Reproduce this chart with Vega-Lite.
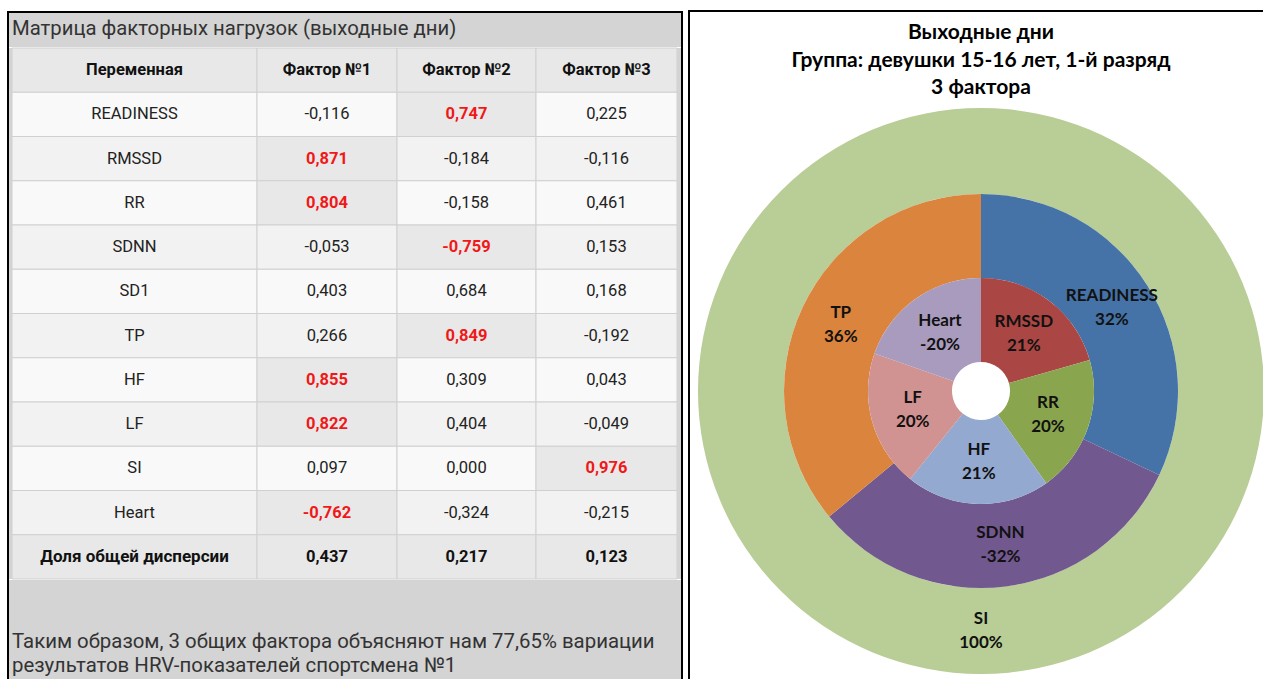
{
  "$schema": "https://vega.github.io/schema/vega-lite/v6.json",
  "background": "white",
  "padding": {"left": 7, "top": 10, "right": 0, "bottom": 0},
  "spacing": 5,
  "resolve": {"scale": {"color": "independent"}},
  "config": {
    "view": {"stroke": null},
    "locale": {"number": {"decimal": ",", "thousands": "\u00a0", "grouping": [3], "currency": ["", ""], "minus": "-"}}
  },
  "datasets": {
    "columns": [
      {"col": "Переменная"}, {"col": "Фактор №1"}, {"col": "Фактор №2"}, {"col": "Фактор №3"}
    ],
    "loadings": [
      {"variable": "READINESS", "factor": "Фактор №1", "value": -0.116},
      {"variable": "READINESS", "factor": "Фактор №2", "value": 0.747},
      {"variable": "READINESS", "factor": "Фактор №3", "value": 0.225},
      {"variable": "RMSSD", "factor": "Фактор №1", "value": 0.871},
      {"variable": "RMSSD", "factor": "Фактор №2", "value": -0.184},
      {"variable": "RMSSD", "factor": "Фактор №3", "value": -0.116},
      {"variable": "RR", "factor": "Фактор №1", "value": 0.804},
      {"variable": "RR", "factor": "Фактор №2", "value": -0.158},
      {"variable": "RR", "factor": "Фактор №3", "value": 0.461},
      {"variable": "SDNN", "factor": "Фактор №1", "value": -0.053},
      {"variable": "SDNN", "factor": "Фактор №2", "value": -0.759},
      {"variable": "SDNN", "factor": "Фактор №3", "value": 0.153},
      {"variable": "SD1", "factor": "Фактор №1", "value": 0.403},
      {"variable": "SD1", "factor": "Фактор №2", "value": 0.684},
      {"variable": "SD1", "factor": "Фактор №3", "value": 0.168},
      {"variable": "TP", "factor": "Фактор №1", "value": 0.266},
      {"variable": "TP", "factor": "Фактор №2", "value": 0.849},
      {"variable": "TP", "factor": "Фактор №3", "value": -0.192},
      {"variable": "HF", "factor": "Фактор №1", "value": 0.855},
      {"variable": "HF", "factor": "Фактор №2", "value": 0.309},
      {"variable": "HF", "factor": "Фактор №3", "value": 0.043},
      {"variable": "LF", "factor": "Фактор №1", "value": 0.822},
      {"variable": "LF", "factor": "Фактор №2", "value": 0.404},
      {"variable": "LF", "factor": "Фактор №3", "value": -0.049},
      {"variable": "SI", "factor": "Фактор №1", "value": 0.097},
      {"variable": "SI", "factor": "Фактор №2", "value": 0.0},
      {"variable": "SI", "factor": "Фактор №3", "value": 0.976},
      {"variable": "Heart", "factor": "Фактор №1", "value": -0.762},
      {"variable": "Heart", "factor": "Фактор №2", "value": -0.324},
      {"variable": "Heart", "factor": "Фактор №3", "value": -0.215},
      {"variable": "Доля общей дисперсии", "factor": "Фактор №1", "value": 0.437},
      {"variable": "Доля общей дисперсии", "factor": "Фактор №2", "value": 0.217},
      {"variable": "Доля общей дисперсии", "factor": "Фактор №3", "value": 0.123}
    ],
    "outer": [
      {"variable": "SI", "share": 1.0, "pct": 1.0, "n": 1}
    ],
    "middle": [
      {"variable": "READINESS", "share": 0.32, "pct": 0.32, "n": 1},
      {"variable": "SDNN", "share": 0.32, "pct": -0.32, "n": 2},
      {"variable": "TP", "share": 0.36, "pct": 0.36, "n": 3}
    ],
    "inner": [
      {"variable": "RMSSD", "share": 0.21, "pct": 0.21, "n": 1},
      {"variable": "RR", "share": 0.20, "pct": 0.20, "n": 2},
      {"variable": "HF", "share": 0.21, "pct": 0.21, "n": 3},
      {"variable": "LF", "share": 0.20, "pct": 0.20, "n": 4},
      {"variable": "Heart", "share": 0.20, "pct": -0.20, "n": 5}
    ],
    "titleText": [{"title": "Матрица факторных нагрузок (выходные дни)"}],
    "noteText": [{"note": "Таким образом, 3 общих фактора объясняют нам 77,65% вариации\nрезультатов HRV-показателей спортсмена №1"}]
  },
  "hconcat": [
    {
      "spacing": 0,
      "hconcat": [
        {
          "width": 2, "height": 700,
          "view": {"fill": "black"},
          "data": {"values": []},
          "mark": "rect"
        },
        {
          "spacing": 0,
          "vconcat": [
            {
              "width": 672, "height": 2,
              "view": {"fill": "black"},
              "data": {"values": []},
              "mark": "rect"
            },
            {
              "width": 672, "height": 34,
              "view": {"fill": "#d4d4d4"},
              "data": {"name": "titleText"},
              "mark": {"type": "text", "align": "left", "baseline": "middle", "dx": 3, "dy": -1, "font": "Roboto", "fontSize": 20.3, "color": "#333333"},
              "encoding": {
                "text": {"field": "title"},
                "x": {"datum": 0, "type": "quantitative", "scale": {"domain": [0, 1]}, "axis": null}
              }
            },
            {
              "spacing": 0,
              "bounds": "flush",
              "hconcat": [
                {
                  "width": 3, "height": 531,
                  "view": {"fill": "#d4d4d4"},
                  "data": {"values": []},
                  "mark": "rect"
                },
                {
                  "width": 245, "height": 531,
                  "layer": [
                    {
                      "data": {"name": "columns"},
                      "transform": [{"filter": "datum.col === 'Переменная'"}],
                      "mark": {"type": "rect", "fill": "#e8e8e8", "stroke": "#d0d0d0", "strokeWidth": 1},
                      "encoding": {"y": {"datum": "Переменная", "type": "nominal", "axis": null, "scale": {"domain": ["Переменная","READINESS","RMSSD","RR","SDNN","SD1","TP","HF","LF","SI","Heart","Доля общей дисперсии"], "paddingInner": 0, "paddingOuter": 0}}}
                    },
                    {
                      "data": {"name": "columns"},
                      "transform": [{"filter": "datum.col === 'Переменная'"}],
                      "mark": {"type": "text", "font": "Roboto", "fontSize": 16.5, "fontWeight": "bold", "color": "#111111", "baseline": "middle"},
                      "encoding": {"y": {"datum": "Переменная", "type": "nominal", "axis": null}, "text": {"field": "col"}}
                    },
                    {
                      "data": {"name": "loadings"},
                      "transform": [{"filter": "datum.factor === 'Фактор №1'"}],
                      "mark": {"type": "rect", "stroke": "#d0d0d0", "strokeWidth": 1},
                      "encoding": {
                        "y": {"field": "variable", "type": "nominal", "axis": null},
                        "color": {"field": "variable", "type": "nominal", "legend": null, "scale": {"domain": ["READINESS","RMSSD","RR","SDNN","SD1","TP","HF","LF","SI","Heart","Доля общей дисперсии"], "range": ["#f9f9f9","#f2f2f2","#f9f9f9","#f2f2f2","#f9f9f9","#f2f2f2","#f9f9f9","#f2f2f2","#f9f9f9","#f2f2f2","#e8e8e8"]}}
                      }
                    },
                    {
                      "data": {"name": "loadings"},
                      "transform": [{"filter": "datum.factor === 'Фактор №1' && datum.variable !== 'Доля общей дисперсии'"}],
                      "mark": {"type": "text", "font": "Roboto", "fontSize": 16.5, "color": "#222222", "baseline": "middle"},
                      "encoding": {"y": {"field": "variable", "type": "nominal", "axis": null}, "text": {"field": "variable"}}
                    },
                    {
                      "data": {"name": "loadings"},
                      "transform": [{"filter": "datum.factor === 'Фактор №1' && datum.variable === 'Доля общей дисперсии'"}],
                      "mark": {"type": "text", "font": "Roboto", "fontSize": 17, "fontWeight": "bold", "color": "#111111", "baseline": "middle"},
                      "encoding": {"y": {"field": "variable", "type": "nominal", "axis": null}, "text": {"field": "variable"}}
                    }
                  ]
                },
                {
                  "width": 140, "height": 531,
                  "layer": [
                    {
                      "data": {"name": "columns"},
                      "transform": [{"filter": "datum.col === 'Фактор №1'"}],
                      "mark": {"type": "rect", "fill": "#e8e8e8", "stroke": "#d0d0d0", "strokeWidth": 1},
                      "encoding": {"y": {"datum": "Переменная", "type": "nominal", "axis": null, "scale": {"domain": ["Переменная","READINESS","RMSSD","RR","SDNN","SD1","TP","HF","LF","SI","Heart","Доля общей дисперсии"], "paddingInner": 0, "paddingOuter": 0}}}
                    },
                    {
                      "data": {"name": "columns"},
                      "transform": [{"filter": "datum.col === 'Фактор №1'"}],
                      "mark": {"type": "text", "font": "Roboto", "fontSize": 16.5, "fontWeight": "bold", "color": "#111111", "baseline": "middle"},
                      "encoding": {"y": {"datum": "Переменная", "type": "nominal", "axis": null}, "text": {"field": "col"}}
                    },
                    {
                      "data": {"name": "loadings"},
                      "transform": [{"filter": "datum.factor === 'Фактор №1'"}],
                      "mark": {"type": "rect", "stroke": "#d0d0d0", "strokeWidth": 1},
                      "encoding": {
                        "y": {"field": "variable", "type": "nominal", "axis": null},
                        "color": {"condition": {"test": "abs(datum.value) >= 0.7 && datum.variable !== 'Доля общей дисперсии'", "value": "#e8e8e8"}, "field": "variable", "type": "nominal", "legend": null, "scale": {"domain": ["READINESS","RMSSD","RR","SDNN","SD1","TP","HF","LF","SI","Heart","Доля общей дисперсии"], "range": ["#f9f9f9","#f2f2f2","#f9f9f9","#f2f2f2","#f9f9f9","#f2f2f2","#f9f9f9","#f2f2f2","#f9f9f9","#f2f2f2","#e8e8e8"]}}
                      }
                    },
                    {
                      "data": {"name": "loadings"},
                      "transform": [{"filter": "datum.factor === 'Фактор №1' && !(abs(datum.value) >= 0.7) && datum.variable !== 'Доля общей дисперсии'"}],
                      "mark": {"type": "text", "font": "Roboto", "fontSize": 16.5, "color": "#222222", "baseline": "middle"},
                      "encoding": {"y": {"field": "variable", "type": "nominal", "axis": null}, "text": {"field": "value", "type": "quantitative", "format": ".3f"}}
                    },
                    {
                      "data": {"name": "loadings"},
                      "transform": [{"filter": "datum.factor === 'Фактор №1' && (abs(datum.value) >= 0.7 || datum.variable === 'Доля общей дисперсии')"}],
                      "mark": {"type": "text", "font": "Roboto", "fontSize": 16.5, "fontWeight": "bold", "baseline": "middle"},
                      "encoding": {
                        "y": {"field": "variable", "type": "nominal", "axis": null},
                        "text": {"field": "value", "type": "quantitative", "format": ".3f"},
                        "color": {"condition": {"test": "datum.variable !== 'Доля общей дисперсии'", "value": "#f01818"}, "value": "#111111"}
                      }
                    }
                  ]
                },
                {
                  "width": 139, "height": 531,
                  "layer": [
                    {
                      "data": {"name": "columns"},
                      "transform": [{"filter": "datum.col === 'Фактор №2'"}],
                      "mark": {"type": "rect", "fill": "#e8e8e8", "stroke": "#d0d0d0", "strokeWidth": 1},
                      "encoding": {"y": {"datum": "Переменная", "type": "nominal", "axis": null, "scale": {"domain": ["Переменная","READINESS","RMSSD","RR","SDNN","SD1","TP","HF","LF","SI","Heart","Доля общей дисперсии"], "paddingInner": 0, "paddingOuter": 0}}}
                    },
                    {
                      "data": {"name": "columns"},
                      "transform": [{"filter": "datum.col === 'Фактор №2'"}],
                      "mark": {"type": "text", "font": "Roboto", "fontSize": 16.5, "fontWeight": "bold", "color": "#111111", "baseline": "middle"},
                      "encoding": {"y": {"datum": "Переменная", "type": "nominal", "axis": null}, "text": {"field": "col"}}
                    },
                    {
                      "data": {"name": "loadings"},
                      "transform": [{"filter": "datum.factor === 'Фактор №2'"}],
                      "mark": {"type": "rect", "stroke": "#d0d0d0", "strokeWidth": 1},
                      "encoding": {
                        "y": {"field": "variable", "type": "nominal", "axis": null},
                        "color": {"condition": {"test": "abs(datum.value) >= 0.7 && datum.variable !== 'Доля общей дисперсии'", "value": "#e8e8e8"}, "field": "variable", "type": "nominal", "legend": null, "scale": {"domain": ["READINESS","RMSSD","RR","SDNN","SD1","TP","HF","LF","SI","Heart","Доля общей дисперсии"], "range": ["#f9f9f9","#f2f2f2","#f9f9f9","#f2f2f2","#f9f9f9","#f2f2f2","#f9f9f9","#f2f2f2","#f9f9f9","#f2f2f2","#e8e8e8"]}}
                      }
                    },
                    {
                      "data": {"name": "loadings"},
                      "transform": [{"filter": "datum.factor === 'Фактор №2' && !(abs(datum.value) >= 0.7) && datum.variable !== 'Доля общей дисперсии'"}],
                      "mark": {"type": "text", "font": "Roboto", "fontSize": 16.5, "color": "#222222", "baseline": "middle"},
                      "encoding": {"y": {"field": "variable", "type": "nominal", "axis": null}, "text": {"field": "value", "type": "quantitative", "format": ".3f"}}
                    },
                    {
                      "data": {"name": "loadings"},
                      "transform": [{"filter": "datum.factor === 'Фактор №2' && (abs(datum.value) >= 0.7 || datum.variable === 'Доля общей дисперсии')"}],
                      "mark": {"type": "text", "font": "Roboto", "fontSize": 16.5, "fontWeight": "bold", "baseline": "middle"},
                      "encoding": {
                        "y": {"field": "variable", "type": "nominal", "axis": null},
                        "text": {"field": "value", "type": "quantitative", "format": ".3f"},
                        "color": {"condition": {"test": "datum.variable !== 'Доля общей дисперсии'", "value": "#f01818"}, "value": "#111111"}
                      }
                    }
                  ]
                },
                {
                  "width": 141, "height": 531,
                  "layer": [
                    {
                      "data": {"name": "columns"},
                      "transform": [{"filter": "datum.col === 'Фактор №3'"}],
                      "mark": {"type": "rect", "fill": "#e8e8e8", "stroke": "#d0d0d0", "strokeWidth": 1},
                      "encoding": {"y": {"datum": "Переменная", "type": "nominal", "axis": null, "scale": {"domain": ["Переменная","READINESS","RMSSD","RR","SDNN","SD1","TP","HF","LF","SI","Heart","Доля общей дисперсии"], "paddingInner": 0, "paddingOuter": 0}}}
                    },
                    {
                      "data": {"name": "columns"},
                      "transform": [{"filter": "datum.col === 'Фактор №3'"}],
                      "mark": {"type": "text", "font": "Roboto", "fontSize": 16.5, "fontWeight": "bold", "color": "#111111", "baseline": "middle"},
                      "encoding": {"y": {"datum": "Переменная", "type": "nominal", "axis": null}, "text": {"field": "col"}}
                    },
                    {
                      "data": {"name": "loadings"},
                      "transform": [{"filter": "datum.factor === 'Фактор №3'"}],
                      "mark": {"type": "rect", "stroke": "#d0d0d0", "strokeWidth": 1},
                      "encoding": {
                        "y": {"field": "variable", "type": "nominal", "axis": null},
                        "color": {"condition": {"test": "abs(datum.value) >= 0.7 && datum.variable !== 'Доля общей дисперсии'", "value": "#e8e8e8"}, "field": "variable", "type": "nominal", "legend": null, "scale": {"domain": ["READINESS","RMSSD","RR","SDNN","SD1","TP","HF","LF","SI","Heart","Доля общей дисперсии"], "range": ["#f9f9f9","#f2f2f2","#f9f9f9","#f2f2f2","#f9f9f9","#f2f2f2","#f9f9f9","#f2f2f2","#f9f9f9","#f2f2f2","#e8e8e8"]}}
                      }
                    },
                    {
                      "data": {"name": "loadings"},
                      "transform": [{"filter": "datum.factor === 'Фактор №3' && !(abs(datum.value) >= 0.7) && datum.variable !== 'Доля общей дисперсии'"}],
                      "mark": {"type": "text", "font": "Roboto", "fontSize": 16.5, "color": "#222222", "baseline": "middle"},
                      "encoding": {"y": {"field": "variable", "type": "nominal", "axis": null}, "text": {"field": "value", "type": "quantitative", "format": ".3f"}}
                    },
                    {
                      "data": {"name": "loadings"},
                      "transform": [{"filter": "datum.factor === 'Фактор №3' && (abs(datum.value) >= 0.7 || datum.variable === 'Доля общей дисперсии')"}],
                      "mark": {"type": "text", "font": "Roboto", "fontSize": 16.5, "fontWeight": "bold", "baseline": "middle"},
                      "encoding": {
                        "y": {"field": "variable", "type": "nominal", "axis": null},
                        "text": {"field": "value", "type": "quantitative", "format": ".3f"},
                        "color": {"condition": {"test": "datum.variable !== 'Доля общей дисперсии'", "value": "#f01818"}, "value": "#111111"}
                      }
                    }
                  ]
                },
                {
                  "width": 4, "height": 531,
                  "view": {"fill": "#d4d4d4"},
                  "data": {"values": []},
                  "mark": "rect"
                }
              ]
            },
            {
              "width": 672, "height": 124,
              "view": {"fill": "#d4d4d4"},
              "data": {"name": "noteText"},
              "mark": {"type": "text", "align": "left", "baseline": "middle", "dx": 3, "lineBreak": "\n", "lineHeight": 24, "font": "Roboto", "fontSize": 20.4, "color": "#333333"},
              "encoding": {
                "text": {"field": "note"},
                "x": {"datum": 0, "type": "quantitative", "scale": {"domain": [0, 1]}, "axis": null}
              }
            }
          ]
        },
        {
          "width": 2, "height": 700,
          "view": {"fill": "black"},
          "data": {"values": []},
          "mark": "rect"
        }
      ]
    },
    {
      "width": 584, "height": 760,
      "view": {"fill": "white", "stroke": "black", "strokeWidth": 2},
      "title": {
        "text": ["Выходные дни", "Группа: девушки 15-16 лет, 1-й разряд", "3 фактора"],
        "font": "Lato", "fontSize": 21, "fontWeight": "bold", "color": "#000000",
        "lineHeight": 27.5, "offset": -87, "anchor": "middle", "frame": "group"
      },
      "resolve": {"scale": {"theta": "independent"}},
      "layer": [
        {
          "data": {"name": "outer"},
          "encoding": {
            "theta": {"field": "share", "type": "quantitative", "stack": true},
            "order": {"field": "n", "type": "quantitative"},
            "detail": {"field": "variable"},
            "color": {"field": "variable", "type": "nominal", "legend": null, "scale": {"domain": ["SI","READINESS","SDNN","TP","RMSSD","RR","HF","LF","Heart"], "range": ["#b9cd96","#4572a7","#71588f","#db843d","#aa4643","#89a54e","#93a9cf","#d19392","#a99bbd"]}}
          },
          "layer": [
            {"mark": {"type": "arc", "radius": 283, "innerRadius": 197}},
            {"mark": {"type": "text", "radius": 240, "dy": -12, "font": "Lato", "fontSize": 17, "fontWeight": "bold"}, "encoding": {"text": {"field": "variable"}, "color": {"value": "#111111"}}},
            {"mark": {"type": "text", "radius": 240, "dy": 12, "font": "Lato", "fontSize": 17, "fontWeight": "bold"}, "encoding": {"text": {"field": "pct", "type": "quantitative", "format": ".0%"}, "color": {"value": "#111111"}}}
          ]
        },
        {
          "data": {"name": "middle"},
          "encoding": {
            "theta": {"field": "share", "type": "quantitative", "stack": true},
            "order": {"field": "n", "type": "quantitative"},
            "detail": {"field": "variable"},
            "color": {"field": "variable", "type": "nominal", "legend": null}
          },
          "layer": [
            {"mark": {"type": "arc", "radius": 197, "innerRadius": 113}},
            {"mark": {"type": "text", "radius": 155, "dy": -12, "font": "Lato", "fontSize": 17, "fontWeight": "bold"}, "encoding": {"text": {"field": "variable"}, "color": {"value": "#111111"}}},
            {"mark": {"type": "text", "radius": 155, "dy": 12, "font": "Lato", "fontSize": 17, "fontWeight": "bold"}, "encoding": {"text": {"field": "pct", "type": "quantitative", "format": ".0%"}, "color": {"value": "#111111"}}}
          ]
        },
        {
          "data": {"name": "inner"},
          "encoding": {
            "theta": {"field": "share", "type": "quantitative", "stack": true},
            "order": {"field": "n", "type": "quantitative"},
            "detail": {"field": "variable"},
            "color": {"field": "variable", "type": "nominal", "legend": null}
          },
          "layer": [
            {"mark": {"type": "arc", "radius": 113, "innerRadius": 29}},
            {"mark": {"type": "text", "radius": 71, "dy": -12, "font": "Lato", "fontSize": 17, "fontWeight": "bold"}, "encoding": {"text": {"field": "variable"}, "color": {"value": "#111111"}}},
            {"mark": {"type": "text", "radius": 71, "dy": 12, "font": "Lato", "fontSize": 17, "fontWeight": "bold"}, "encoding": {"text": {"field": "pct", "type": "quantitative", "format": ".0%"}, "color": {"value": "#111111"}}}
          ]
        }
      ]
    }
  ]
}
